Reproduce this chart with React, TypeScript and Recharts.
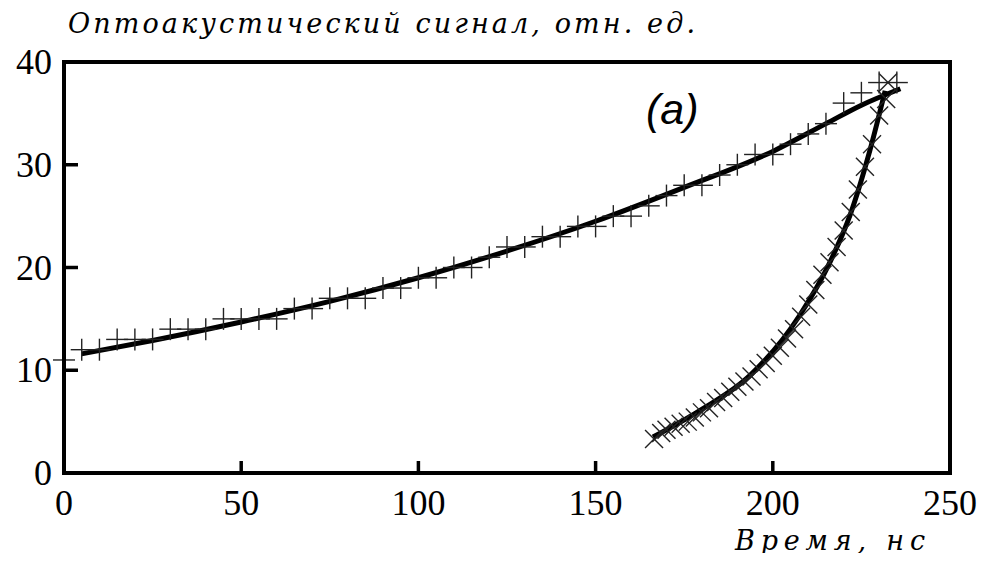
import { ComposedChart, XAxis, YAxis, Line, Scatter } from "recharts";

// "+" series: time (ns) and signal
const plusTime = [0, 5, 10, 15, 20, 25, 30, 35, 40, 45, 50, 55, 60, 65, 70, 75, 80, 85, 90, 95, 100, 105, 110, 115, 120, 125, 130, 135, 140, 145, 150, 155, 160, 165, 170, 175, 180, 185, 190, 195, 200, 205, 210, 215, 220, 225, 230, 235];
const plusSignal = [11, 12, 12, 13, 13, 13, 14, 14, 14, 15, 15, 15, 15, 16, 16, 17, 17, 17, 18, 18, 19, 19, 20, 20, 21, 22, 22, 23, 23, 24, 24, 25, 25, 26, 27, 28, 28, 29, 30, 31, 31, 32, 33, 34, 36, 37, 38, 38];

// "x" series
const crossTime = [166.5, 168.5, 170, 172, 174, 176, 178, 180, 182, 184, 186, 188, 190, 192, 194, 196, 198, 200, 202, 204, 206, 208, 210, 212, 214, 216, 218, 220, 222, 224, 226, 228, 230, 232, 232.5];
const crossSignal = [3.3, 3.9, 4.2, 4.5, 4.8, 5.0, 5.4, 5.9, 6.3, 6.9, 7.3, 7.9, 8.4, 8.9, 9.4, 10.1, 10.7, 11.4, 12.2, 13.1, 14.0, 15.2, 16.4, 17.8, 19.3, 20.5, 22.0, 23.6, 25.4, 27.6, 29.8, 32.0, 34.8, 36.4, 38.0];

// fitted curves
const fitATime = [5, 25, 50, 75, 100, 125, 150, 175, 200, 215, 225, 236];
const fitASignal = [11.6, 12.9, 14.7, 16.7, 19.0, 21.6, 24.5, 27.8, 31.3, 34.0, 35.8, 37.4];
const fitBTime = [166.2, 179.5, 193.6, 207.7, 216.1, 221.8, 227.4, 231.7];
const fitBSignal = [3.5, 6.1, 9.5, 15.4, 20.5, 25.1, 31.4, 37.2];

const xTicks = [0, 50, 100, 150, 200, 250];
const yTicks = [0, 10, 20, 30, 40];
const xDomain = [0, 250];
const yDomain = [0, 40];

const zip = (xs: number[], ys: number[]) => xs.map((x, i) => ({ x, y: ys[i] }));
const plusPts = zip(plusTime, plusSignal);
const crossPts = zip(crossTime, crossSignal);
const fitA = zip(fitATime, fitASignal);
const fitB = zip(fitBTime, fitBSignal);

const W = 990;
const H = 561;
const MARGIN = { top: 62, right: 40, bottom: 88, left: 64 };
const PLOT = {
  x: MARGIN.left,
  y: MARGIN.top,
  w: W - MARGIN.left - MARGIN.right,
  h: H - MARGIN.top - MARGIN.bottom,
};

const SERIF = "'Liberation Serif', 'DejaVu Serif', serif";
const ITALIC = "'DejaVu Serif', 'Liberation Serif', serif";

const PlusMark = (props: any) => {
  const { cx, cy } = props;
  if (cx == null || cy == null) return null;
  return (
    <g stroke="#222" strokeWidth={1.4}>
      <line x1={cx - 11} x2={cx + 11} y1={cy} y2={cy} />
      <line x1={cx} x2={cx} y1={cy - 11} y2={cy + 11} />
    </g>
  );
};

const CrossMark = (props: any) => {
  const { cx, cy } = props;
  if (cx == null || cy == null) return null;
  return (
    <g stroke="#222" strokeWidth={1.4}>
      <line x1={cx - 9} x2={cx + 9} y1={cy - 9} y2={cy + 9} />
      <line x1={cx - 9} x2={cx + 9} y1={cy + 9} y2={cy - 9} />
    </g>
  );
};

const XTick = ({ x, y, payload }: any) => (
  <text x={x} y={y + 42} textAnchor="middle" fontFamily={SERIF} fontSize={36} fill="#000">
    {payload.value}
  </text>
);

const YTick = ({ x, y, payload }: any) => (
  <text x={x - 12} y={y + 12} textAnchor="end" fontFamily={SERIF} fontSize={36} fill="#000">
    {payload.value}
  </text>
);

// closed box around the plot area with tick marks pointing inward
const Frame = () => {
  const sx = (v: number) => PLOT.x + ((v - xDomain[0]) / (xDomain[1] - xDomain[0])) * PLOT.w;
  const sy = (v: number) => PLOT.y + PLOT.h - ((v - yDomain[0]) / (yDomain[1] - yDomain[0])) * PLOT.h;
  const bottom = PLOT.y + PLOT.h;
  return (
    <g>
      <rect x={PLOT.x} y={PLOT.y} width={PLOT.w} height={PLOT.h} fill="none" stroke="#000" strokeWidth={4} />
      {xTicks.map((v) => (
        <line key={`x${v}`} x1={sx(v)} x2={sx(v)} y1={bottom} y2={bottom - 12} stroke="#000" strokeWidth={3.5} />
      ))}
      {yTicks.map((v) => (
        <line key={`y${v}`} x1={PLOT.x} x2={PLOT.x + 14} y1={sy(v)} y2={sy(v)} stroke="#000" strokeWidth={3.5} />
      ))}
    </g>
  );
};

export default function App() {
  return (
    <div style={{ position: "relative", width: W, height: H, margin: -8, background: "#fff" }}>
      <ComposedChart width={W} height={H} margin={{ ...MARGIN, bottom: 0, left: 0 }}>
        <XAxis
          type="number"
          dataKey="x"
          domain={xDomain}
          ticks={xTicks}
          height={MARGIN.bottom}
          tickSize={0}
          tickMargin={0}
          tickLine={false}
          axisLine={{ stroke: "#000", strokeWidth: 4 }}
          tick={<XTick />}
        />
        <YAxis
          type="number"
          dataKey="y"
          domain={yDomain}
          ticks={yTicks}
          width={MARGIN.left}
          tickSize={0}
          tickMargin={0}
          tickLine={false}
          axisLine={{ stroke: "#000", strokeWidth: 4 }}
          tick={<YTick />}
        />
        <Scatter data={plusPts} shape={<PlusMark />} isAnimationActive={false} />
        <Scatter data={crossPts} shape={<CrossMark />} isAnimationActive={false} />
        <Line data={fitA} dataKey="y" type="monotone" stroke="#000" strokeWidth={5} dot={false} isAnimationActive={false} />
        <Line data={fitB} dataKey="y" type="monotone" stroke="#000" strokeWidth={5} dot={false} isAnimationActive={false} />
      </ComposedChart>
      <svg width={W} height={H} style={{ position: "absolute", left: 0, top: 0, pointerEvents: "none" }}>
        <Frame />
        <text x={68} y={33} fontFamily={ITALIC} fontStyle="italic" fontSize={27} textLength={627} lengthAdjust="spacing" fill="#000">
          Оптоакустический сигнал, отн. ед.
        </text>
        <text x={735} y={550} fontFamily={ITALIC} fontStyle="italic" fontSize={27} textLength={190} lengthAdjust="spacing" fill="#000">
          Время, нс
        </text>
        <text x={646} y={124} fontFamily="'Liberation Sans', Arimo, sans-serif" fontStyle="italic" fontSize={43} fill="#000">
          (а)
        </text>
      </svg>
    </div>
  );
}
